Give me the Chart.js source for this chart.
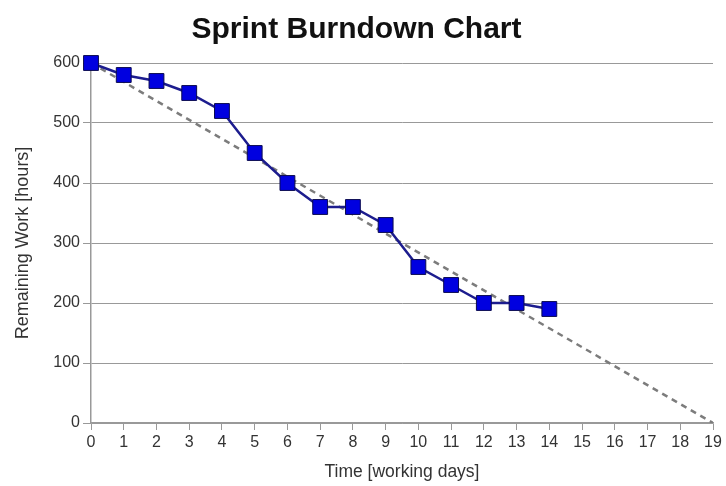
<!DOCTYPE html>
<html>
<head>
<meta charset="utf-8">
<script src="https://cdn.jsdelivr.net/npm/chart.js@4"></script>
<style>
    body { margin: 0; background: #fff; }
    #chart { display: block; }
</style>
</head>
<body>
<canvas id="chart" width="726" height="486"></canvas>
<script>
const days = [0, 1, 2, 3, 4, 5, 6, 7, 8, 9, 10, 11, 12, 13, 14];
const remaining = [600, 580, 570, 550, 520, 450, 400, 360, 360, 330, 260, 230, 200, 200, 190];
const idealDays = [0, 19];
const idealWork = [600, 0];

const actualPoints = days.map((d, i) => ({ x: d, y: remaining[i] }));
const idealPoints = idealDays.map((d, i) => ({ x: d, y: idealWork[i] }));

const ctx = document.getElementById("chart");

new Chart(ctx, {
    type: "line",
    data: {
        datasets: [
            {
                label: "Ideal",
                data: idealPoints,
                borderColor: "#7c7c7c",
                borderWidth: 2.5,
                borderDash: [6, 5],
                pointRadius: 0,
                order: 2,
            },
            {
                label: "Actual",
                data: actualPoints,
                borderColor: "#1c1c8e",
                borderWidth: 2.5,
                backgroundColor: "#0000e0",
                pointStyle: "rect",
                pointRadius: 10.5,
                pointBorderColor: "#0a0a50",
                pointBorderWidth: 1,
                clip: false,
                order: 1,
            },
        ],
    },
    options: {
        responsive: false,
        animation: false,
        layout: {
            padding: { left: 0, right: 13, top: 0, bottom: 0 },
        },
        plugins: {
            legend: { display: false },
            tooltip: { enabled: false },
            title: {
                display: true,
                text: "Sprint Burndown Chart",
                color: "#111",
                font: { family: "Liberation Sans", size: 30, weight: "bold" },
                padding: { top: 12, bottom: 15 },
            },
        },
        scales: {
            x: {
                type: "linear",
                min: 0,
                max: 19,
                afterFit: (s) => { s.height = 63; },
                ticks: {
                    stepSize: 1,
                    color: "#333",
                    padding: 3,
                    font: { family: "Liberation Sans", size: 16 },
                },
                grid: {
                    drawOnChartArea: false,
                    drawTicks: true,
                    tickLength: 7,
                    color: "#999",
                },
                border: { color: "#999", width: 1.5 },
                title: {
                    display: true,
                    text: "Time [working days]",
                    color: "#333",
                    font: { family: "Liberation Sans", size: 17.5 },
                    padding: { top: 4, bottom: 3 },
                },
            },
            y: {
                min: 0,
                max: 600,
                afterFit: (s) => { s.width = 91; },
                ticks: {
                    stepSize: 100,
                    color: "#333",
                    padding: 3,
                    font: { family: "Liberation Sans", size: 16 },
                },
                grid: {
                    color: "#999",
                    tickLength: 8,
                },
                border: { color: "#999", width: 1.5 },
                title: {
                    display: true,
                    text: "Remaining Work [hours]",
                    color: "#333",
                    font: { family: "Liberation Sans", size: 18 },
                    padding: { top: 12, bottom: 4 },
                },
            },
        },
    },
});
</script>
</body>
</html>
